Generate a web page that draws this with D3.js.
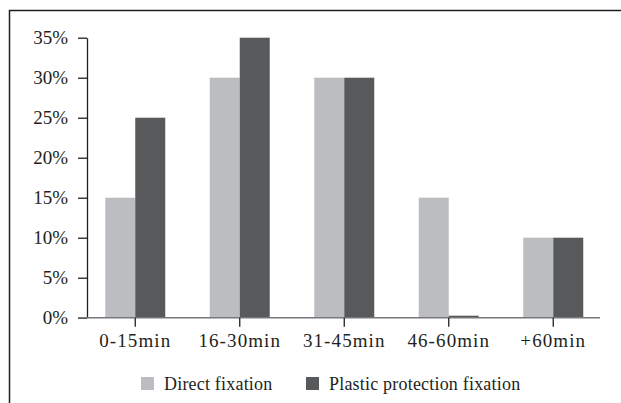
<!DOCTYPE html>
<html>
<head>
<meta charset="UTF-8">
<script src="https://cdnjs.cloudflare.com/ajax/libs/d3/7.8.5/d3.min.js"></script>
<style>
body { margin:0; background:#fff; }
text { font-family:"Liberation Serif","Times New Roman",serif; font-size:19px; fill:#231f20; }
.xlab text { letter-spacing:1.1px; }
.leg text { font-size:18px; letter-spacing:0.2px; }
</style>
</head>
<body>
<div id="chart"></div>
<script>
var categories = ["0-15min", "16-30min", "31-45min", "46-60min", "+60min"];
var series = ["Direct fixation", "Plastic protection fixation"];
var directValues = [15, 30, 30, 15, 10];
var plasticValues = [25, 35, 30, 0.25, 10];
var yTicks = [0, 5, 10, 15, 20, 25, 30, 35];
var colors = ["#bcbdc0", "#58595b"];

var width = 621, height = 403;
var svg = d3.select("#chart").append("svg").attr("width", width).attr("height", height);

// frame (right and bottom edges fall outside the picture)
svg.append("rect").attr("x", 9.5).attr("y", 10.5).attr("width", 700).attr("height", 500)
  .attr("fill", "none").attr("stroke", "#231f20").attr("stroke-width", 1.5);

var x = d3.scaleBand().domain(categories).range([83, 605.5]);
var sub = d3.scaleBand().domain(series).range([-30, 30]);
var y = d3.scaleLinear().domain([0, 35]).range([317.7, 37.7]);

var rows = categories.map(function(c, i){ return {cat:c, vals:[directValues[i], plasticValues[i]]}; });

var g = svg.selectAll(".grp").data(rows).enter().append("g")
  .attr("transform", function(d){ return "translate(" + (x(d.cat) + x.bandwidth()/2) + ",0)"; });
g.selectAll("rect").data(function(d){ return d.vals.map(function(v, j){ return {s:series[j], v:v, j:j}; }); })
  .enter().append("rect")
  .attr("x", function(d){ return sub(d.s); })
  .attr("width", sub.bandwidth())
  .attr("y", function(d){ return y(d.v); })
  .attr("height", function(d){ return y(0) - y(d.v); })
  .attr("fill", function(d){ return colors[d.j]; });

// y axis
var yAxis = svg.append("g").attr("transform", "translate(87,0)")
  .call(d3.axisLeft(y).tickValues(yTicks).tickSize(9).tickSizeOuter(0).tickFormat(function(d){ return d + "%"; }));
yAxis.attr("font-size", null).attr("font-family", null);
yAxis.selectAll("path,line").attr("stroke", "#231f20").attr("stroke-width", 1.3);
yAxis.selectAll("text").attr("x", -19);

// x axis
svg.append("line").attr("x1", 78).attr("x2", 600).attr("y1", y(0)).attr("y2", y(0))
  .attr("stroke", "#77787b").attr("stroke-width", 1.5);
var xAxis = svg.append("g").attr("class", "xlab").attr("transform", "translate(0," + y(0) + ")")
  .call(d3.axisBottom(x).tickSize(9).tickSizeOuter(0));
xAxis.attr("font-size", null).attr("font-family", null);
xAxis.select(".domain").remove();
xAxis.selectAll("line").attr("stroke", "#231f20").attr("stroke-width", 1.3);
xAxis.selectAll("text").attr("y", 16);

// legend
var legX = [141, 306];
var leg = svg.selectAll(".leg").data(series).enter().append("g").attr("class", "leg")
  .attr("transform", function(d, i){ return "translate(" + legX[i] + ",377)"; });
leg.append("rect").attr("width", 13).attr("height", 13).attr("fill", function(d, i){ return colors[i]; });
leg.append("text").attr("x", 23).attr("y", 13).text(function(d){ return d; });
</script>
</body>
</html>
